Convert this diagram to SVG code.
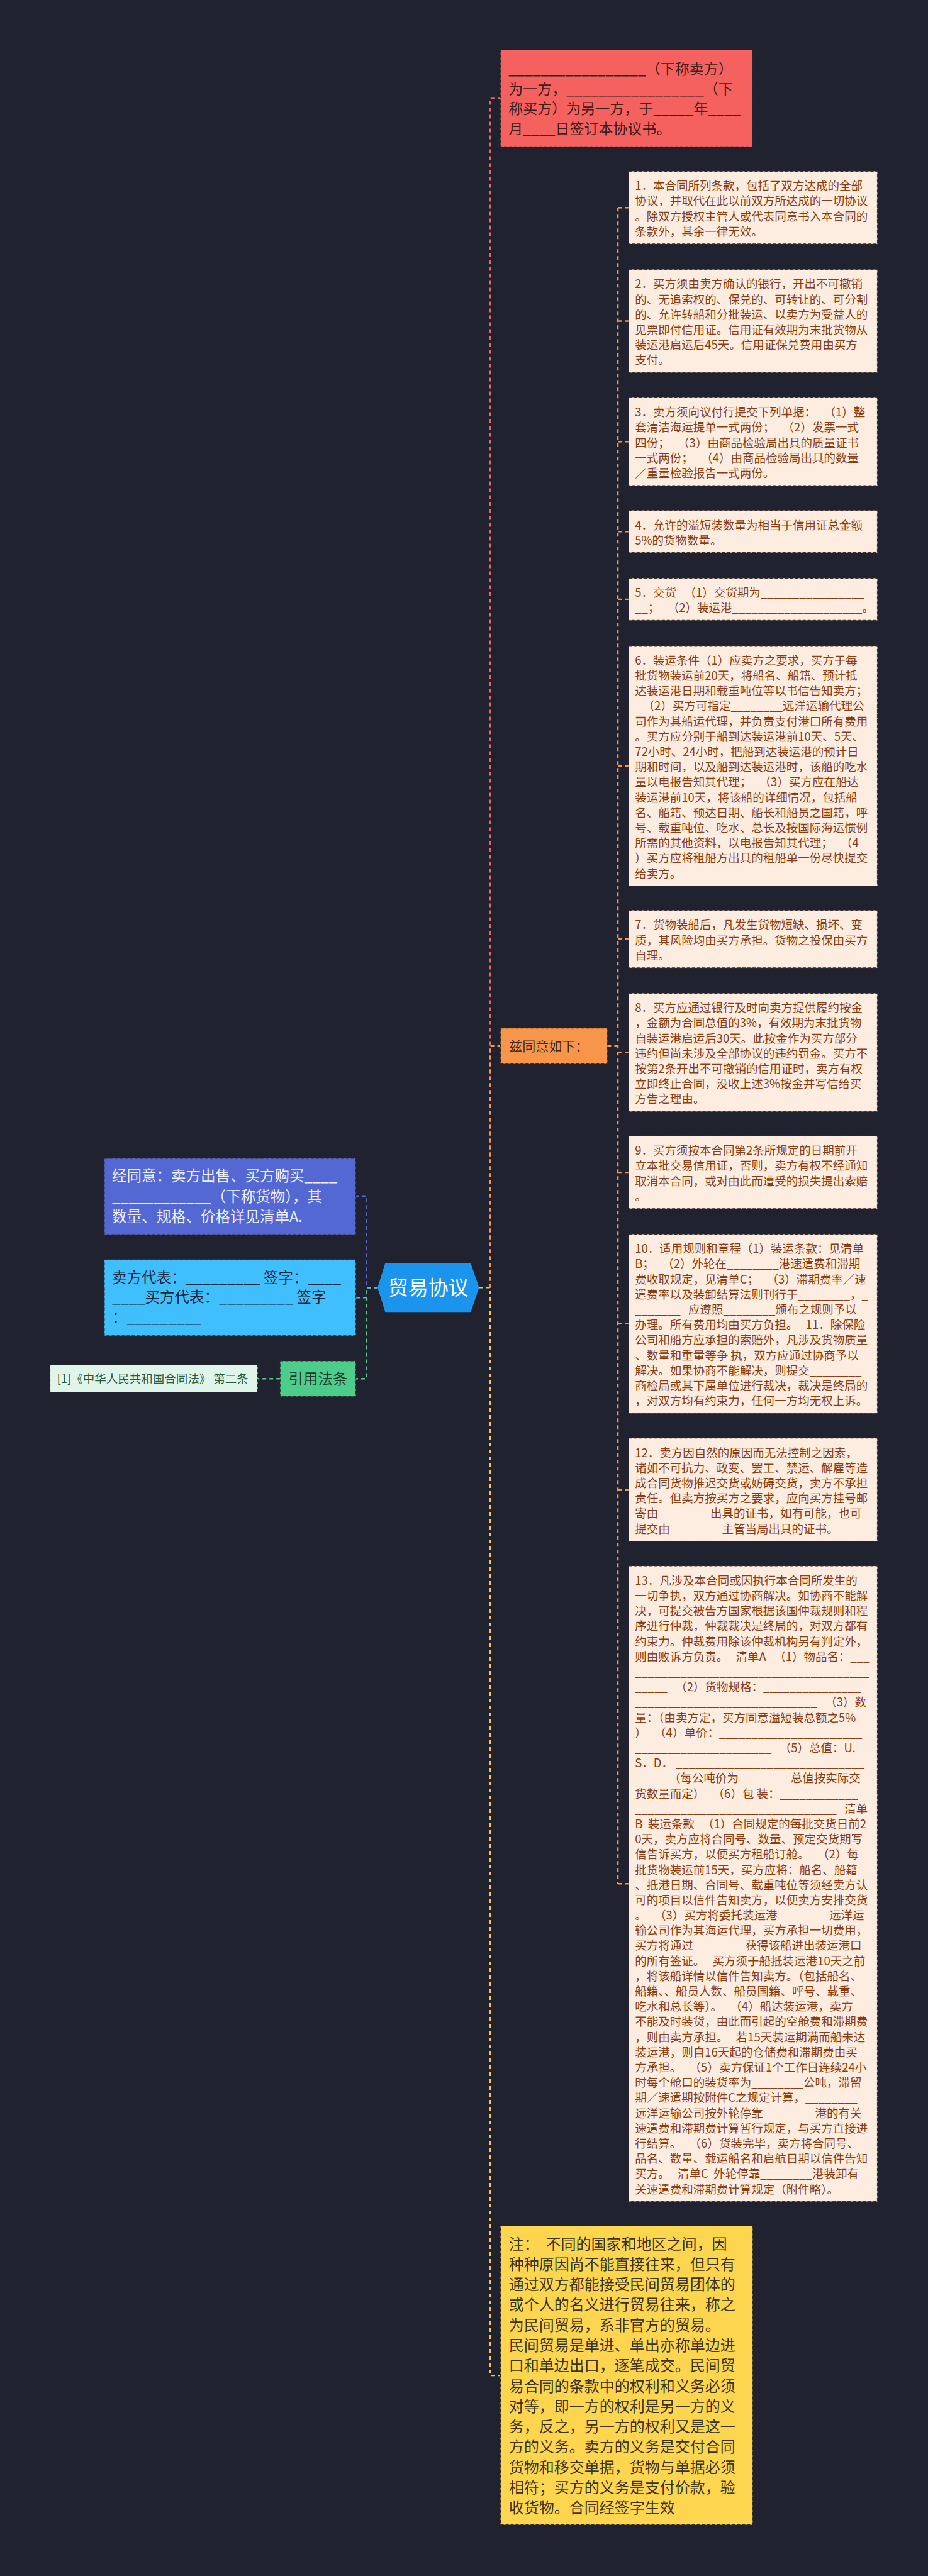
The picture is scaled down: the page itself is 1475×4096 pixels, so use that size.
<svg xmlns="http://www.w3.org/2000/svg" width="1475" height="4096" viewBox="0 0 1475 4096">
<style>
text{font-family:"Noto Sans CJK SC","Noto Sans",sans-serif;}
.c{font-size:18.5px;fill:#8b3c12}
.cb{fill:#fdece0;stroke:#3a302c;stroke-width:1.2;stroke-dasharray:5 3}
.ln{fill:none;stroke-width:2.4;stroke-dasharray:6 5}
.bd{stroke:#2e2a2a;stroke-width:1.2;stroke-dasharray:5 3}
</style>
<rect x="0" y="0" width="1475" height="4096" fill="#20232f"/>
<g id="connectors">
<path class="ln" stroke="#f0606a" d="M778.8 2047.4V156.4H795.5"/>
<path class="ln" stroke="#f7954a" d="M778.8 2047.4V1663.2H795.5"/>
<path class="ln" stroke="#f5c842" d="M761.5 2047.4H778.8V3777.1H795.5"/>
<path class="ln" stroke="#f7954a" d="M965.4 1663.2H982.1M982.1 330.2V2995.3M982.1 330.2H999.4M982.1 510.5H999.4M982.1 702.3H999.4M982.1 845.2H999.4M982.1 952.9H999.4M982.1 1217.8H999.4M982.1 1493.2H999.4M982.1 1673.4H999.4M982.1 1864.1H999.4M982.1 2104.8H999.4M982.1 2368.7H999.4M982.1 2995.3H999.4"/>
<path class="ln" stroke="#5468d4" d="M600.2 2047.4H582.3V1901.7H565.6"/>
<path class="ln" stroke="#40bfff" d="M600.2 2047.4H582.3V2063.3H565.6"/>
<path class="ln" stroke="#4ccd8c" d="M600.2 2047.4H582.3V2192.2H565.6"/>
<path class="ln" stroke="#4ccd8c" d="M445.2 2192.2H409.5"/>
</g>
<g id="n-root">
<polygon points="612.3,2008.5 748.2,2008.5 761.5,2047.4 748.2,2086.3 612.3,2086.3 600.2,2047.4" fill="#1b94ee"/>
<text x="680.8" y="2058.9" font-size="32" fill="#ffffff" text-anchor="middle">贸易协议</text>
</g>
<g id="n-parties">
<rect class="bd" x="795.5" y="79.5" width="400.3" height="153.8" fill="#f5615f"/>
<text x="808.2" y="118" font-size="23" fill="#3b2020" xml:space="preserve"><tspan x="808.2">_________________（下称卖方）</tspan><tspan x="808.2" dy="31.7">为一方，_________________（下</tspan><tspan x="808.2" dy="31.7">称买方）为另一方，于_____年____</tspan><tspan x="808.2" dy="31.7">月____日签订本协议书。</tspan></text>
</g>
<g id="n-agree">
<rect class="bd" x="795.5" y="1634.7" width="169.9" height="57" fill="#f7954a"/>
<text x="809.3" y="1670.6" font-size="21" fill="#3a2a1f">兹同意如下：</text>
</g>
<g id="n-c1">
<rect class="cb" x="999.4" y="272.4" width="395.1" height="115.5"/>
<text class="c" x="1009.2" y="302.3"><tspan x="1009.2">1．本合同所列条款，包括了双方达成的全部</tspan><tspan x="1009.2" dy="24.19">协议，并取代在此以前双方所达成的一切协议</tspan><tspan x="1009.2" dy="24.19">。除双方授权主管人或代表同意书入本合同的</tspan><tspan x="1009.2" dy="24.19">条款外，其余一律无效。</tspan></text>
</g>
<g id="n-c2">
<rect class="cb" x="999.4" y="428.5" width="395.1" height="163.9"/>
<text class="c" x="1009.2" y="458.4"><tspan x="1009.2">2．买方须由卖方确认的银行，开出不可撤销</tspan><tspan x="1009.2" dy="24.19">的、无追索权的、保兑的、可转让的、可分割</tspan><tspan x="1009.2" dy="24.19">的、允许转船和分批装运、以卖方为受益人的</tspan><tspan x="1009.2" dy="24.19">见票即付信用证。信用证有效期为末批货物从</tspan><tspan x="1009.2" dy="24.19">装运港启运后45天。信用证保兑费用由买方</tspan><tspan x="1009.2" dy="24.19">支付。</tspan></text>
</g>
<g id="n-c3">
<rect class="cb" x="999.4" y="632.4" width="395.1" height="139.7"/>
<text class="c" x="1009.2" y="662.3" xml:space="preserve"><tspan x="1009.2">3．卖方须向议付行提交下列单据：   （1）整</tspan><tspan x="1009.2" dy="24.19">套清洁海运提单一式两份；   （2）发票一式</tspan><tspan x="1009.2" dy="24.19">四份；   （3）由商品检验局出具的质量证书</tspan><tspan x="1009.2" dy="24.19">一式两份；   （4）由商品检验局出具的数量</tspan><tspan x="1009.2" dy="24.19">／重量检验报告一式两份。</tspan></text>
</g>
<g id="n-c4">
<rect class="cb" x="999.4" y="811.6" width="395.1" height="67.1"/>
<text class="c" x="1009.2" y="841.5"><tspan x="1009.2">4．允许的溢短装数量为相当于信用证总金额</tspan><tspan x="1009.2" dy="24.19">5%的货物数量。</tspan></text>
</g>
<g id="n-c5">
<rect class="cb" x="999.4" y="919.3" width="395.1" height="67.1"/>
<text class="c" x="1009.2" y="949.2" xml:space="preserve"><tspan x="1009.2">5．交货   （1）交货期为________________</tspan><tspan x="1009.2" dy="24.19">__；   （2）装运港____________________。</tspan></text>
</g>
<g id="n-c6">
<rect class="cb" x="999.4" y="1027" width="395.1" height="381.6"/>
<text class="c" x="1009.2" y="1056.9" xml:space="preserve"><tspan x="1009.2">6．装运条件（1）应卖方之要求，买方于每</tspan><tspan x="1009.2" dy="24.19">批货物装运前20天，将船名、船籍、预计抵</tspan><tspan x="1009.2" dy="24.19">达装运港日期和载重吨位等以书信告知卖方；</tspan><tspan x="1009.2" dy="24.19">   （2）买方可指定________远洋运输代理公</tspan><tspan x="1009.2" dy="24.19">司作为其船运代理，并负责支付港口所有费用</tspan><tspan x="1009.2" dy="24.19">。买方应分别于船到达装运港前10天、5天、</tspan><tspan x="1009.2" dy="24.19">72小时、24小时，把船到达装运港的预计日</tspan><tspan x="1009.2" dy="24.19">期和时间，以及船到达装运港时，该船的吃水</tspan><tspan x="1009.2" dy="24.19">量以电报告知其代理；   （3）买方应在船达</tspan><tspan x="1009.2" dy="24.19">装运港前10天，将该船的详细情况，包括船</tspan><tspan x="1009.2" dy="24.19">名、船籍、预达日期、船长和船员之国籍，呼</tspan><tspan x="1009.2" dy="24.19">号、载重吨位、吃水、总长及按国际海运惯例</tspan><tspan x="1009.2" dy="24.19">所需的其他资料，以电报告知其代理；   （4</tspan><tspan x="1009.2" dy="24.19">）买方应将租船方出具的租船单一份尽快提交</tspan><tspan x="1009.2" dy="24.19">给卖方。</tspan></text>
</g>
<g id="n-c7">
<rect class="cb" x="999.4" y="1447.5" width="395.1" height="91.3"/>
<text class="c" x="1009.2" y="1477.4"><tspan x="1009.2">7．货物装船后，凡发生货物短缺、损坏、变</tspan><tspan x="1009.2" dy="24.19">质，其风险均由买方承担。货物之投保由买方</tspan><tspan x="1009.2" dy="24.19">自理。</tspan></text>
</g>
<g id="n-c8">
<rect class="cb" x="999.4" y="1579.4" width="395.1" height="188"/>
<text class="c" x="1009.2" y="1609.3"><tspan x="1009.2">8．买方应通过银行及时向卖方提供履约按金</tspan><tspan x="1009.2" dy="24.19">，金额为合同总值的3%，有效期为末批货物</tspan><tspan x="1009.2" dy="24.19">自装运港启运后30天。此按金作为买方部分</tspan><tspan x="1009.2" dy="24.19">违约但尚未涉及全部协议的违约罚金。买方不</tspan><tspan x="1009.2" dy="24.19">按第2条开出不可撤销的信用证时，卖方有权</tspan><tspan x="1009.2" dy="24.19">立即终止合同，没收上述3%按金并写信给买</tspan><tspan x="1009.2" dy="24.19">方告之理由。</tspan></text>
</g>
<g id="n-c9">
<rect class="cb" x="999.4" y="1806.3" width="395.1" height="115.5"/>
<text class="c" x="1009.2" y="1836.2"><tspan x="1009.2">9．买方须按本合同第2条所规定的日期前开</tspan><tspan x="1009.2" dy="24.19">立本批交易信用证，否则，卖方有权不经通知</tspan><tspan x="1009.2" dy="24.19">取消本合同，或对由此而遭受的损失提出索赔</tspan><tspan x="1009.2" dy="24.19">。</tspan></text>
</g>
<g id="n-c10">
<rect class="cb" x="999.4" y="1962.4" width="395.1" height="284.8"/>
<text class="c" x="1009.2" y="1992.3" xml:space="preserve"><tspan x="1009.2">10．适用规则和章程（1）装运条款：见清单</tspan><tspan x="1009.2" dy="24.19">B；   （2）外轮在________港速遣费和滞期</tspan><tspan x="1009.2" dy="24.19">费收取规定，见清单C；   （3）滞期费率／速</tspan><tspan x="1009.2" dy="24.19">遣费率以及装卸结算法则刊行于________，_</tspan><tspan x="1009.2" dy="24.19">_______   应遵照________颁布之规则予以</tspan><tspan x="1009.2" dy="24.19">办理。所有费用均由买方负担。   11．除保险</tspan><tspan x="1009.2" dy="24.19">公司和船方应承担的索赔外，凡涉及货物质量</tspan><tspan x="1009.2" dy="24.19">、数量和重量等争 执，双方应通过协商予以</tspan><tspan x="1009.2" dy="24.19">解决。如果协商不能解决，则提交________</tspan><tspan x="1009.2" dy="24.19">商检局或其下属单位进行裁决，裁决是终局的</tspan><tspan x="1009.2" dy="24.19">，对双方均有约束力，任何一方均无权上诉。</tspan></text>
</g>
<g id="n-c11">
<rect class="cb" x="999.4" y="2286.7" width="395.1" height="163.9"/>
<text class="c" x="1009.2" y="2316.6"><tspan x="1009.2">12．卖方因自然的原因而无法控制之因素，</tspan><tspan x="1009.2" dy="24.19">诸如不可抗力、政变、罢工、禁运、解雇等造</tspan><tspan x="1009.2" dy="24.19">成合同货物推迟交货或妨碍交货，卖方不承担</tspan><tspan x="1009.2" dy="24.19">责任。但卖方按买方之要求，应向买方挂号邮</tspan><tspan x="1009.2" dy="24.19">寄由________出具的证书，如有可能，也可</tspan><tspan x="1009.2" dy="24.19">提交由________主管当局出具的证书。</tspan></text>
</g>
<g id="n-c12">
<rect class="cb" x="999.4" y="2490" width="395.1" height="1010.5"/>
<text class="c" x="1009.2" y="2519.9" xml:space="preserve"><tspan x="1009.2">13．凡涉及本合同或因执行本合同所发生的</tspan><tspan x="1009.2" dy="24.19">一切争执，双方通过协商解决。如协商不能解</tspan><tspan x="1009.2" dy="24.19">决，可提交被告方国家根据该国仲裁规则和程</tspan><tspan x="1009.2" dy="24.19">序进行仲裁，仲裁裁决是终局的，对双方都有</tspan><tspan x="1009.2" dy="24.19">约束力。仲裁费用除该仲裁机构另有判定外，</tspan><tspan x="1009.2" dy="24.19">则由败诉方负责。   清单A   （1）物品名：___</tspan><tspan x="1009.2" dy="24.19">____________________________________</tspan><tspan x="1009.2" dy="24.19">_____   （2）货物规格：_______________</tspan><tspan x="1009.2" dy="24.19">____________________________   （3）数</tspan><tspan x="1009.2" dy="24.19">量：（由卖方定，买方同意溢短装总额之5%</tspan><tspan x="1009.2" dy="24.19">）   （4）单价：______________________</tspan><tspan x="1009.2" dy="24.19">_____________________   （5）总值：U.</tspan><tspan x="1009.2" dy="24.19">S．D． _____________________________</tspan><tspan x="1009.2" dy="24.19">____   （每公吨价为________总值按实际交</tspan><tspan x="1009.2" dy="24.19">货数量而定）   （6）包 装：____________</tspan><tspan x="1009.2" dy="24.19">_______________________________   清单</tspan><tspan x="1009.2" dy="24.19">B  装运条款   （1）合同规定的每批交货日前2</tspan><tspan x="1009.2" dy="24.19">0天，卖方应将合同号、数量、预定交货期写</tspan><tspan x="1009.2" dy="24.19">信告诉买方，以便买方租船订舱。   （2）每</tspan><tspan x="1009.2" dy="24.19">批货物装运前15天，买方应将：船名、船籍</tspan><tspan x="1009.2" dy="24.19">、抵港日期、合同号、载重吨位等须经卖方认</tspan><tspan x="1009.2" dy="24.19">可的项目以信件告知卖方，以便卖方安排交货</tspan><tspan x="1009.2" dy="24.19">。   （3）买方将委托装运港________远洋运</tspan><tspan x="1009.2" dy="24.19">输公司作为其海运代理，买方承担一切费用，</tspan><tspan x="1009.2" dy="24.19">买方将通过________获得该船进出装运港口</tspan><tspan x="1009.2" dy="24.19">的所有签证。   买方须于船抵装运港10天之前</tspan><tspan x="1009.2" dy="24.19">，将该船详情以信件告知卖方。（包括船名、</tspan><tspan x="1009.2" dy="24.19">船籍、、船员人数、船员国籍、呼号、载重、</tspan><tspan x="1009.2" dy="24.19">吃水和总长等）。   （4）船达装运港，卖方</tspan><tspan x="1009.2" dy="24.19">不能及时装货，由此而引起的空舱费和滞期费</tspan><tspan x="1009.2" dy="24.19">，则由卖方承担。   若15天装运期满而船未达</tspan><tspan x="1009.2" dy="24.19">装运港，则自16天起的仓储费和滞期费由买</tspan><tspan x="1009.2" dy="24.19">方承担。   （5）卖方保证1个工作日连续24小</tspan><tspan x="1009.2" dy="24.19">时每个舱口的装货率为________公吨，滞留</tspan><tspan x="1009.2" dy="24.19">期／速遣期按附件C之规定计算，________</tspan><tspan x="1009.2" dy="24.19">远洋运输公司按外轮停靠________港的有关</tspan><tspan x="1009.2" dy="24.19">速遣费和滞期费计算暂行规定，与买方直接进</tspan><tspan x="1009.2" dy="24.19">行结算。   （6）货装完毕，卖方将合同号、</tspan><tspan x="1009.2" dy="24.19">品名、数量、载运船名和启航日期以信件告知</tspan><tspan x="1009.2" dy="24.19">买方。   清单C  外轮停靠________港装卸有</tspan><tspan x="1009.2" dy="24.19">关速遣费和滞期费计算规定（附件略）。</tspan></text>
</g>
<g id="n-note">
<rect class="bd" x="795.5" y="3539.5" width="400.9" height="475.2" fill="#fed54f"/>
<text x="808.7" y="3576.7" font-size="24" fill="#3b3420" xml:space="preserve"><tspan x="808.7">注：  不同的国家和地区之间，因</tspan><tspan x="808.7" dy="32.26">种种原因尚不能直接往来，但只有</tspan><tspan x="808.7" dy="32.26">通过双方都能接受民间贸易团体的</tspan><tspan x="808.7" dy="32.26">或个人的名义进行贸易往来，称之</tspan><tspan x="808.7" dy="32.26">为民间贸易，系非官方的贸易。</tspan><tspan x="808.7" dy="32.26">民间贸易是单进、单出亦称单边进</tspan><tspan x="808.7" dy="32.26">口和单边出口，逐笔成交。民间贸</tspan><tspan x="808.7" dy="32.26">易合同的条款中的权利和义务必须</tspan><tspan x="808.7" dy="32.26">对等，即一方的权利是另一方的义</tspan><tspan x="808.7" dy="32.26">务，反之，另一方的权利又是这一</tspan><tspan x="808.7" dy="32.26">方的义务。卖方的义务是交付合同</tspan><tspan x="808.7" dy="32.26">货物和移交单据，货物与单据必须</tspan><tspan x="808.7" dy="32.26">相符；买方的义务是支付价款，验</tspan><tspan x="808.7" dy="32.26">收货物。合同经签字生效</tspan></text>
</g>
<g id="n-goods">
<rect class="bd" x="165.9" y="1842" width="399.7" height="121" fill="#5468d4"/>
<text x="178" y="1878.3" font-size="23.5" fill="#eef0ff"><tspan x="178">经同意：卖方出售、买方购买____</tspan><tspan x="178" dy="32.4">____________（下称货物），其</tspan><tspan x="178" dy="32.4">数量、规格、价格详见清单A.</tspan></text>
</g>
<g id="n-reps">
<rect class="bd" x="165.9" y="2002.8" width="399.7" height="121" fill="#40bfff"/>
<text x="178" y="2039.6" font-size="23.5" fill="#1a2738" xml:space="preserve"><tspan x="178">卖方代表：_________ 签字：____</tspan><tspan x="178" dy="31.7">____买方代表：_________ 签字</tspan><tspan x="178" dy="31.7">：_________</tspan></text>
</g>
<g id="n-law">
<rect class="bd" x="445.2" y="2164" width="120.4" height="56.4" fill="#4ccd8c"/>
<text x="505.4" y="2200.5" font-size="23.5" fill="#1e3a2a" text-anchor="middle">引用法条</text>
</g>
<g id="n-cite">
<rect class="bd" x="79.5" y="2170.4" width="330" height="43.2" fill="#dff5e9"/>
<text x="90.4" y="2198.7" font-size="18.5" fill="#2c5a3e">[1]《中华人民共和国合同法》 第二条</text>
</g>
</svg>
